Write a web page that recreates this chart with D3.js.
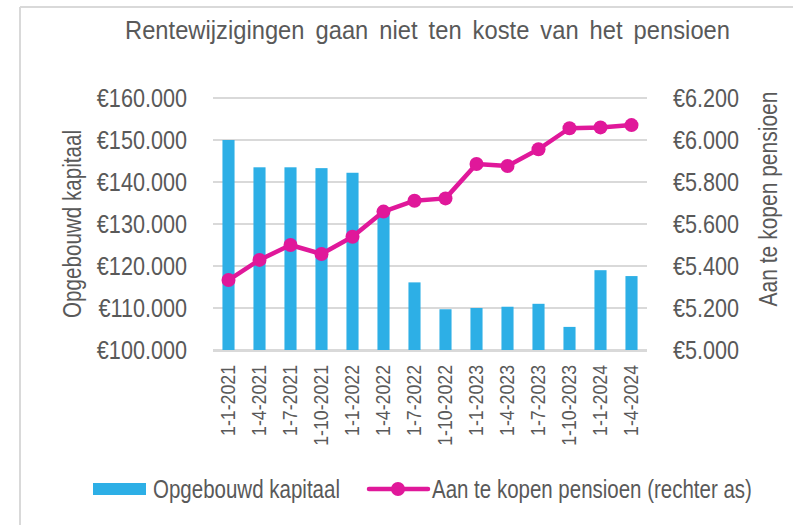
<!DOCTYPE html>
<html><head><meta charset="utf-8">
<script src="https://cdn.jsdelivr.net/npm/d3@7"></script>
<style>
html,body{margin:0;padding:0;background:#fff;}
svg text{font-family:"Liberation Sans",Arial,sans-serif;fill:#595959;}
</style></head>
<body><svg id="c" width="793" height="525"></svg>
<script>
const categories = ["1-1-2021","1-4-2021","1-7-2021","1-10-2021","1-1-2022","1-4-2022","1-7-2022","1-10-2022","1-1-2023","1-4-2023","1-7-2023","1-10-2023","1-1-2024","1-4-2024"];
const kapitaal = [150000,143500,143500,143300,142200,132500,116100,109700,110000,110300,111000,105500,119000,117600];
const pensioen = [5333,5429,5500,5457,5539,5659,5711,5722,5886,5876,5956,6056,6060,6071];
const leftTicks = [100000,110000,120000,130000,140000,150000,160000];
const rightTicks = [5000,5200,5400,5600,5800,6000,6200];
const title = "Rentewijzigingen gaan niet ten koste van het pensioen";
const leftTitle = "Opgebouwd kapitaal";
const rightTitle = "Aan te kopen pensioen";
const legendBar = "Opgebouwd kapitaal";
const legendLine = "Aan te kopen pensioen (rechter as)";

const BLUE = "#2DAFE6", MAG = "#E0189A", GRID = "#D9D9D9";
const SX = 0.865;
const svg = d3.select("#c");
const X0 = 213, X1 = 647, YT = 98, YB = 350;

// frame
svg.append("line").attr("x1",20).attr("x2",793).attr("y1",7).attr("y2",7).attr("stroke","#D9D9D9").attr("stroke-width",2);
svg.append("line").attr("x1",20).attr("x2",20).attr("y1",7).attr("y2",525).attr("stroke","#D9D9D9").attr("stroke-width",2);

const x = d3.scaleBand().domain(categories).range([X0,X1]).paddingInner(0.61).paddingOuter(0.305);
const yL = d3.scaleLinear().domain([100000,160000]).range([YB,YT]);
const yR = d3.scaleLinear().domain([5000,6200]).range([YB,YT]);

const fmtL = v => "€" + d3.format(",")(v).replace(/,/g,".");

// gridlines
svg.append("g").selectAll("line").data(leftTicks).join("line")
  .attr("x1",X0).attr("x2",X1).attr("y1",d=>yL(d)).attr("y2",d=>yL(d))
  .attr("stroke",GRID).attr("stroke-width",2);

// left axis
const gL = svg.append("g").attr("transform",`translate(187,0)`)
  .call(d3.axisLeft(yL).tickValues(leftTicks).tickSize(0).tickPadding(0).tickFormat(fmtL));
gL.select(".domain").remove();
gL.selectAll("text").style("font-size","25px").attr("fill","#595959").attr("transform",`scale(${SX},1)`);

// right axis
const gR = svg.append("g").attr("transform",`translate(673,0)`)
  .call(d3.axisRight(yR).tickValues(rightTicks).tickSize(0).tickPadding(0).tickFormat(fmtL));
gR.select(".domain").remove();
gR.selectAll("text").style("font-size","25px").attr("fill","#595959").attr("transform",`scale(${SX},1)`);

// bars
svg.append("g").selectAll("rect").data(categories).join("rect")
  .attr("x",d=>x(d)).attr("width",x.bandwidth())
  .attr("y",(d,i)=>yL(kapitaal[i])).attr("height",(d,i)=>YB-yL(kapitaal[i]))
  .attr("fill",BLUE);

// x axis
const gX = svg.append("g").attr("transform",`translate(0,${YB+1})`)
  .call(d3.axisBottom(x).tickSize(0).tickPadding(0));
gX.select(".domain").attr("stroke",GRID).attr("stroke-width",2).attr("d",`M${X0},0H${X1}`);
gX.selectAll("text").style("font-size","20.5px").attr("fill","#595959")
  .attr("text-anchor","end").attr("dy",null).attr("y",0)
  .attr("transform",`translate(0,14) rotate(-90) scale(${SX},1)`).attr("dominant-baseline","central");

// line
const lineGen = d3.line().x((d,i)=>x(categories[i])+x.bandwidth()/2).y(d=>yR(d));
svg.append("path").datum(pensioen).attr("d",lineGen).attr("fill","none")
  .attr("stroke",MAG).attr("stroke-width",4.5).attr("stroke-linejoin","round");
svg.append("g").selectAll("circle").data(pensioen).join("circle")
  .attr("cx",(d,i)=>x(categories[i])+x.bandwidth()/2).attr("cy",d=>yR(d))
  .attr("r",7).attr("fill",MAG);

// title
const TS = 0.95;
const tg = svg.append("g").attr("transform",`translate(125,39) scale(${TS},1)`);
const tt = tg.append("text").attr("x",0).attr("y",0).style("font-size","25px").text(title);
const nat = tt.node().getComputedTextLength();
const gaps = title.split(" ").length - 1;
tt.style("word-spacing", Math.max(0,(605/TS - nat)/gaps) + "px");

// fitted text helper: scales text horizontally to a target width
function fitText(tx, ty, rot, anchor, str, width) {
  const g = svg.append("g");
  const t = g.append("text").attr("x",0).attr("y",0).attr("text-anchor",anchor)
    .attr("dominant-baseline", rot ? "central" : null).style("font-size","25px").text(str);
  const s = width / t.node().getComputedTextLength();
  g.attr("transform", `translate(${tx},${ty})${rot ? ` rotate(${rot})` : ""} scale(${s},1)`);
  return g;
}

// axis titles
fitText(72, 224, -90, "middle", leftTitle, 188);
fitText(768, 199, -90, "middle", rightTitle, 215);

// legend
svg.append("rect").attr("x",93).attr("y",483).attr("width",53).attr("height",12).attr("fill",BLUE);
fitText(153, 498, 0, "start", legendBar, 187);
svg.append("line").attr("x1",369).attr("x2",428).attr("y1",489).attr("y2",489).attr("stroke",MAG).attr("stroke-width",4.5).attr("stroke-linecap","round");
svg.append("circle").attr("cx",398).attr("cy",489).attr("r",7).attr("fill",MAG);
fitText(432, 498, 0, "start", legendLine, 320);
</script></body></html>
